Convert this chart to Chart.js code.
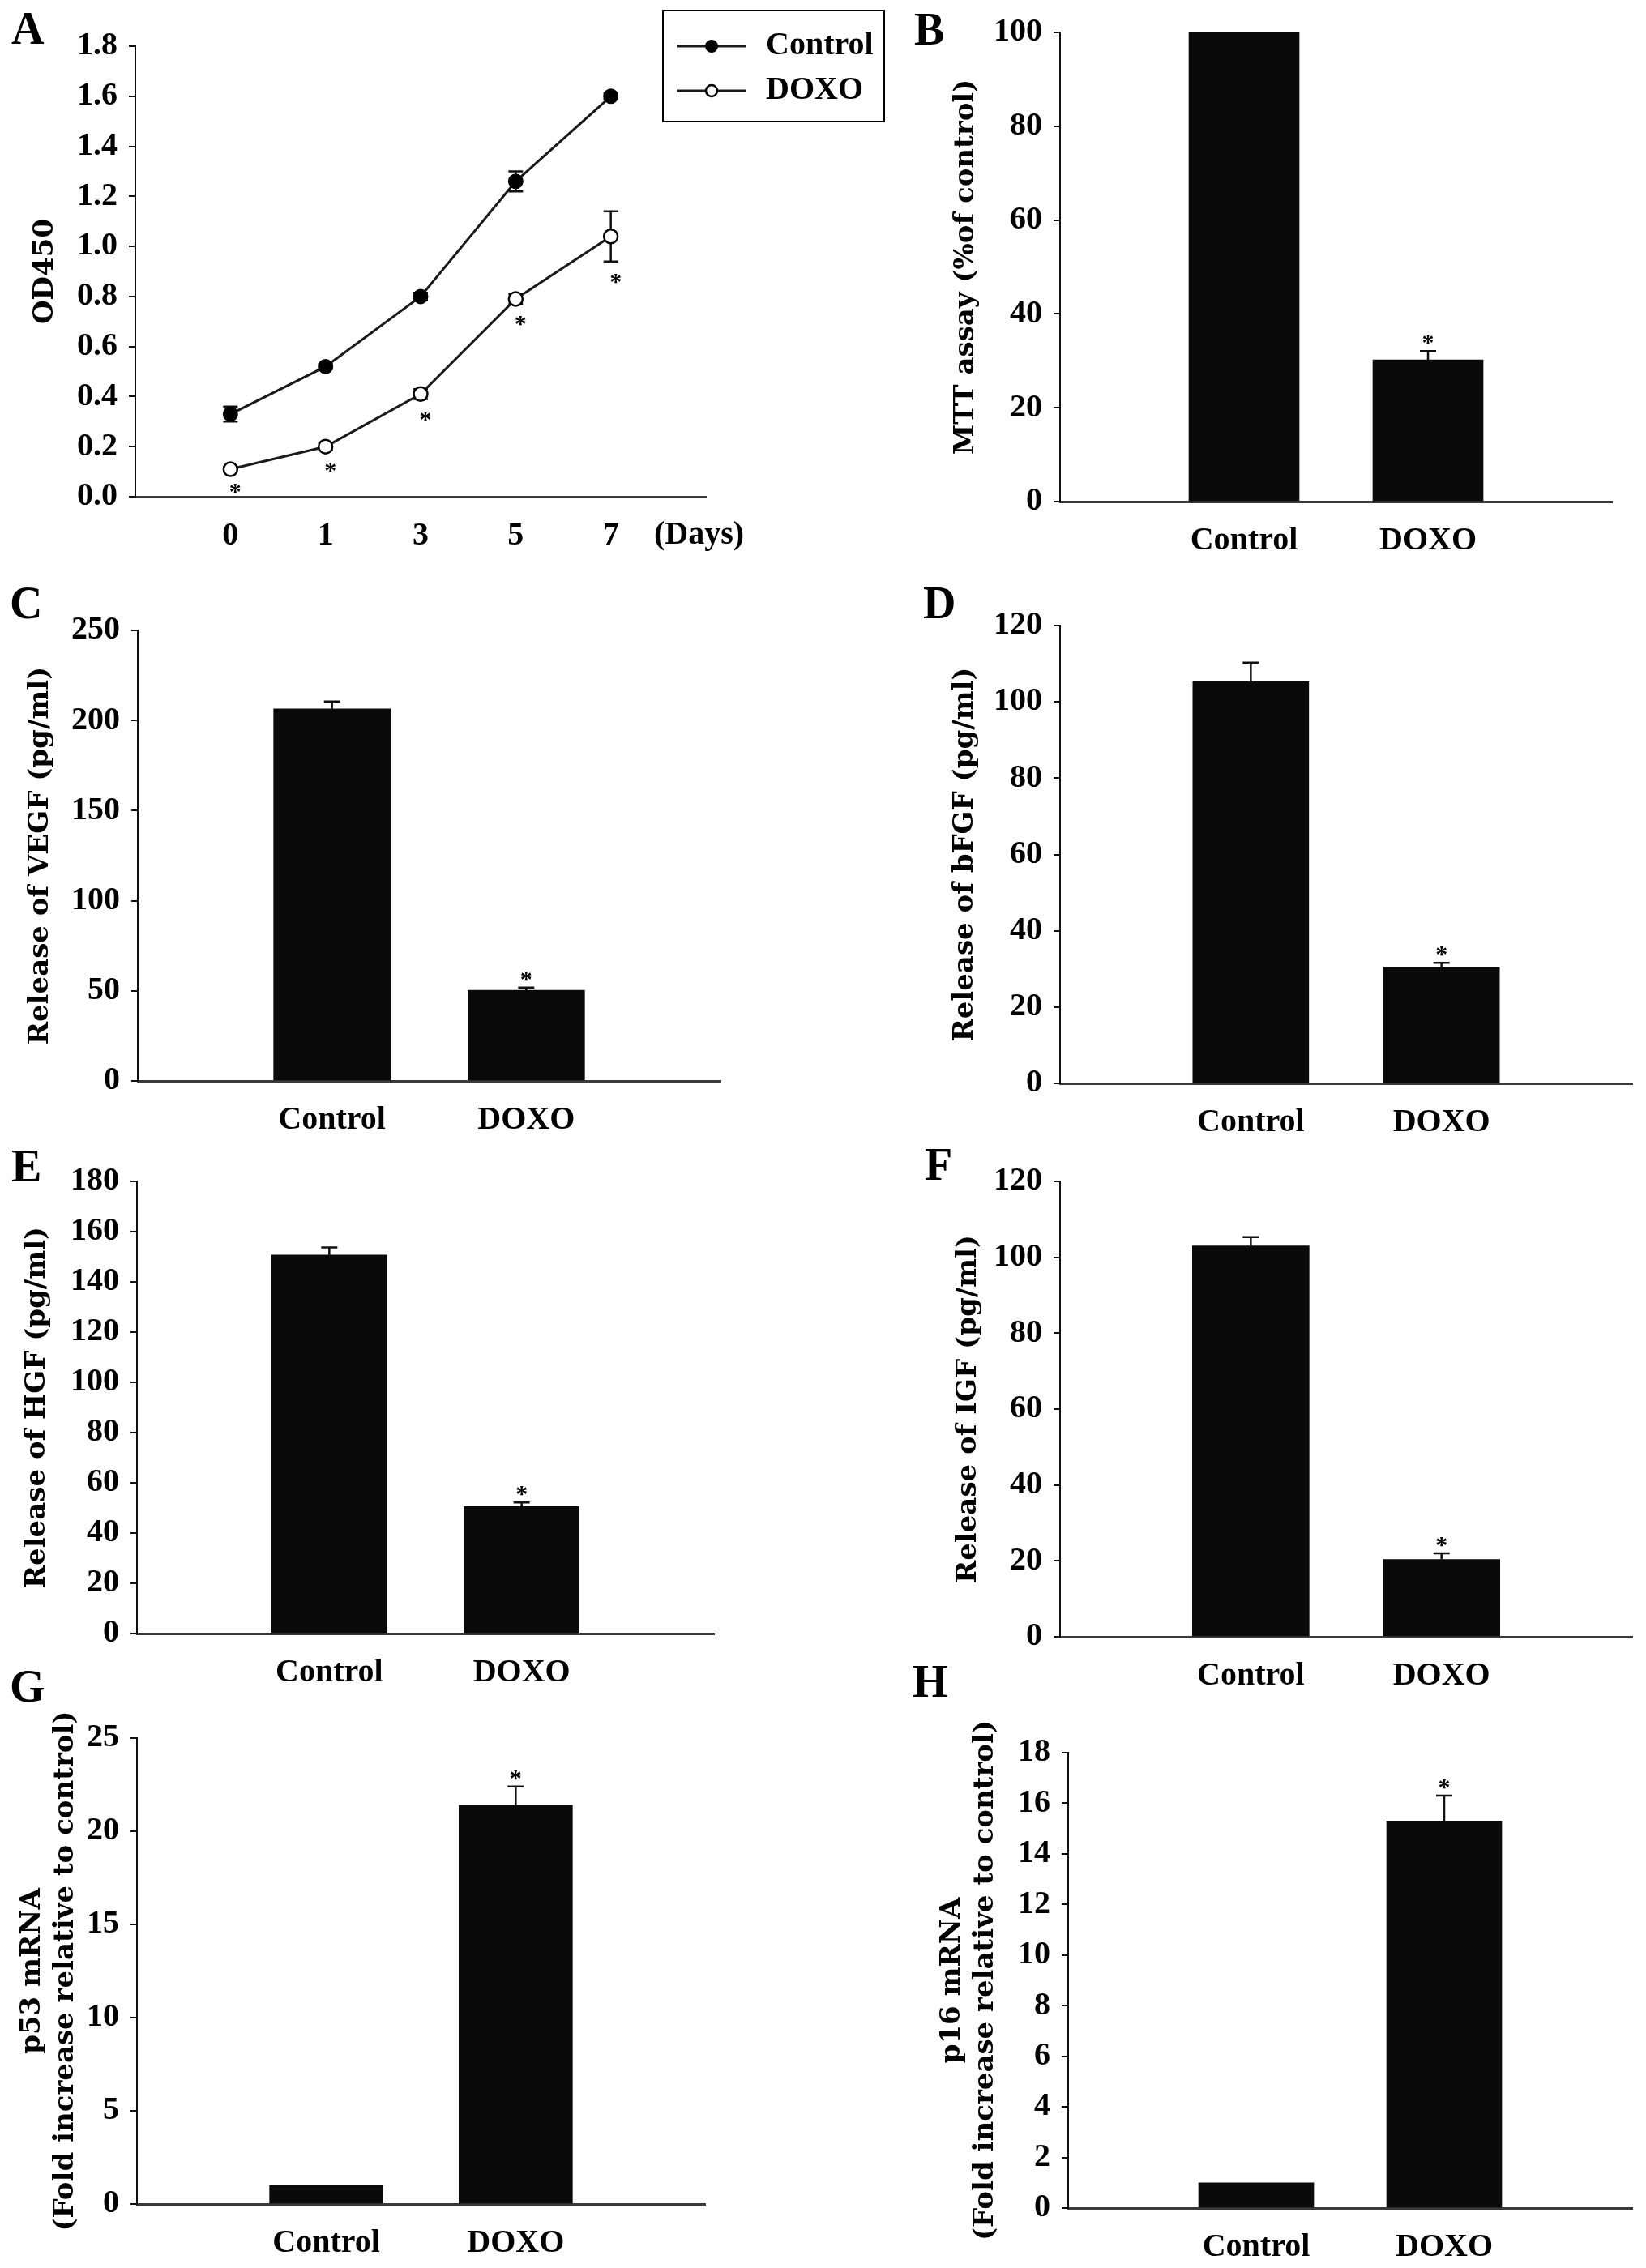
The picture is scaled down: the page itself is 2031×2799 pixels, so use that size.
<!DOCTYPE html>
<html>
<head>
<meta charset="utf-8">
<title>Doxorubicin panels</title>
<script src="https://cdn.jsdelivr.net/npm/chart.js@4.4.0/dist/chart.umd.min.js"></script>
<style>
  body { margin: 0; background: #fff; }
  #page { position: relative; width: 2031px; height: 2799px; background: #fff; overflow: hidden; }
  .panel { position: absolute; }
  .letter { position: absolute; z-index: 2; font: bold 56px 'Liberation Serif', 'Times New Roman', serif; line-height: 56px; color: #000; }
  .days { position: absolute; z-index: 2; font: bold 40px 'Liberation Serif', 'Times New Roman', serif; line-height: 40px; color: #000; }
</style>
</head>
<body>
<div id="page">
  <div class="letter" style="left:14px;top:7px">A</div>
  <div class="letter" style="left:1128px;top:8px">B</div>
  <div class="letter" style="left:12px;top:716px">C</div>
  <div class="letter" style="left:1139px;top:716px">D</div>
  <div class="letter" style="left:14px;top:1411px">E</div>
  <div class="letter" style="left:1141px;top:1409px">F</div>
  <div class="letter" style="left:12px;top:2053px">G</div>
  <div class="letter" style="left:1126px;top:2047px">H</div>
  <div class="days" style="left:807px;top:638px">(Days)</div>
</div>
<script>
// panel A: growth curve (OD450)
const dayLabels = ['0', '1', '3', '5', '7'];
const odControl = [0.33, 0.52, 0.80, 1.26, 1.60];
const odControlErr = [0.03, 0.01, 0.015, 0.04, 0.012];
const odDoxo = [0.11, 0.20, 0.41, 0.79, 1.04];
const odDoxoErr = [0.01, 0.015, 0.02, 0.02, 0.10];
const odDoxoStars = [true, true, true, true, true];

// panels B-H: two groups each
const groups = ['Control', 'DOXO'];
const groupStars = [false, true];
const mttValues = [100, 30.2];
const mttErr = [0, 1.9];
const vegfValues = [206.5, 50.3];
const vegfErr = [4, 1.5];
const bfgfValues = [105.3, 30.4];
const bfgfErr = [5, 1.2];
const hgfValues = [150.7, 50.6];
const hgfErr = [3, 1.6];
const igfValues = [103, 20.4];
const igfErr = [2.3, 1.6];
const p53Values = [1.0, 21.4];
const p53Err = [0, 1.0];
const p16Values = [1.0, 15.3];
const p16Err = [0, 1.0];

Chart.defaults.font.family = "'Liberation Serif', 'Times New Roman', serif";
Chart.defaults.font.weight = 'bold';
Chart.defaults.font.size = 40;
Chart.defaults.color = '#000';
Chart.defaults.animation = false;

const titleFont = {family: "'DejaVu Serif', serif", size: 34, weight: 'bold', lineHeight: 1.2};
const X_HEIGHT = 70;

// empty slot at both ends of the category axis, like the original plots
function pad(arr) { return [null].concat(arr, [null]); }
function padLabels(arr) { return [''].concat(arr, ['']); }

function addCanvas(box) {
  const div = document.createElement('div');
  div.className = 'panel';
  div.style.left = box.left + 'px';
  div.style.top = box.top + 'px';
  div.style.width = box.width + 'px';
  div.style.height = box.height + 'px';
  const canvas = document.createElement('canvas');
  div.appendChild(canvas);
  document.getElementById('page').appendChild(div);
  return canvas;
}

// chart area placement inside the panel box
function frame(p) {
  const b = p.box;
  const padLeft = p.titleX - titleFont.size * titleFont.lineHeight / 2 - b.left;
  return {
    padding: {
      left: padLeft,
      top: p.plotTop - b.top,
      right: b.left + b.width - p.plotRight,
      bottom: b.top + b.height - p.plotBottom - X_HEIGHT
    },
    yWidth: p.axisX - b.left - padLeft
  };
}

function xScale() {
  return {
    offset: false,
    grid: {display: false},
    border: {display: true, color: '#3a3a3a', width: 3},
    ticks: {autoSkip: false, maxRotation: 0, padding: 17, font: {size: 40}},
    afterFit: s => { s.height = X_HEIGHT; }
  };
}

function yScale(p, width) {
  return {
    min: p.min,
    max: p.max,
    ticks: {stepSize: p.step, padding: 14, font: {size: 40}, callback: p.fmt || (v => v)},
    grid: {drawOnChartArea: false, drawTicks: true, tickLength: 8, color: '#111', lineWidth: 2},
    border: {display: true, color: '#111', width: 2},
    title: {display: true, text: p.title, font: titleFont, padding: 0, color: '#000'},
    afterFit: s => { s.width = width; }
  };
}

function drawStar(ctx, x, cy) {
  ctx.save();
  ctx.fillStyle = '#000';
  ctx.font = "bold 30px 'Liberation Serif', serif";
  ctx.textAlign = 'center';
  ctx.textBaseline = 'alphabetic';
  ctx.fillText('*', x, cy + 14);
  ctx.restore();
}

const errorBars = {
  id: 'errorBars',
  beforeDatasetsDraw(chart, args, opts) {
    const ctx = chart.ctx;
    const y = chart.scales.y;
    ctx.save();
    ctx.strokeStyle = '#111';
    ctx.lineWidth = opts.lineWidth || 2.5;
    chart.data.datasets.forEach((ds, di) => {
      if (!ds.errors) return;
      chart.getDatasetMeta(di).data.forEach((el, i) => {
        const v = ds.data[i];
        const err = ds.errors[i];
        if (v == null || !err) return;
        const top = y.getPixelForValue(v + err);
        const bot = y.getPixelForValue(opts.twoSided ? v - err : v);
        const hw = opts.capWidth / 2;
        ctx.beginPath();
        ctx.moveTo(el.x, top); ctx.lineTo(el.x, bot);
        ctx.moveTo(el.x - hw, top); ctx.lineTo(el.x + hw, top);
        if (opts.twoSided) { ctx.moveTo(el.x - hw, bot); ctx.lineTo(el.x + hw, bot); }
        ctx.stroke();
      });
    });
    ctx.restore();
  },
  afterDatasetsDraw(chart, args, opts) {
    const y = chart.scales.y;
    chart.data.datasets.forEach((ds, di) => {
      if (!ds.stars) return;
      chart.getDatasetMeta(di).data.forEach((el, i) => {
        if (!ds.stars[i] || ds.data[i] == null) return;
        const err = ds.errors ? ds.errors[i] || 0 : 0;
        if (opts.starBelow) {
          drawStar(chart.ctx, el.x + 6, y.getPixelForValue(ds.data[i] - err) + 20);
        } else {
          drawStar(chart.ctx, el.x, y.getPixelForValue(ds.data[i] + err) - 15);
        }
      });
    });
  }
};

// boxed legend drawn from the datasets' own styles
const boxLegend = {
  id: 'boxLegend',
  afterDraw(chart, args, opts) {
    const ctx = chart.ctx;
    ctx.save();
    ctx.strokeStyle = '#000';
    ctx.lineWidth = 2;
    ctx.strokeRect(opts.x, opts.y, opts.w, opts.h);
    chart.data.datasets.forEach((ds, i) => {
      const cy = opts.y + 44 + i * 55;
      ctx.strokeStyle = ds.borderColor;
      ctx.lineWidth = ds.borderWidth;
      ctx.beginPath();
      ctx.moveTo(opts.x + 17, cy);
      ctx.lineTo(opts.x + 102, cy);
      ctx.stroke();
      ctx.beginPath();
      ctx.arc(opts.x + 60, cy, 7, 0, Math.PI * 2);
      ctx.fillStyle = ds.pointBackgroundColor;
      ctx.fill();
      ctx.lineWidth = ds.pointBorderWidth;
      ctx.strokeStyle = ds.pointBorderColor;
      ctx.stroke();
      ctx.fillStyle = '#000';
      ctx.font = "bold 40px 'Liberation Serif', serif";
      ctx.textAlign = 'left';
      ctx.textBaseline = 'middle';
      ctx.fillText(ds.label, opts.x + 127, cy);
    });
    ctx.restore();
  }
};

// ---- panel A
const panelA = {box: {left: 0, top: 0, width: 1100, height: 700}, axisX: 167, plotTop: 57, plotBottom: 613, plotRight: 871, titleX: 56,
  min: 0, max: 1.8, step: 0.2, fmt: v => v.toFixed(1), title: 'OD450'};
const frameA = frame(panelA);
new Chart(addCanvas(panelA.box), {
  type: 'line',
  data: {
    labels: padLabels(dayLabels),
    datasets: [
      {label: 'Control', data: pad(odControl), errors: pad(odControlErr),
        borderColor: '#1a1a1a', borderWidth: 3, tension: 0,
        pointRadius: 8.5, pointBackgroundColor: '#000', pointBorderColor: '#000', pointBorderWidth: 2},
      {label: 'DOXO', data: pad(odDoxo), errors: pad(odDoxoErr), stars: pad(odDoxoStars),
        borderColor: '#1a1a1a', borderWidth: 3, tension: 0,
        pointRadius: 8.5, pointBackgroundColor: '#fff', pointBorderColor: '#000', pointBorderWidth: 2.5}
    ]
  },
  options: {
    responsive: true,
    maintainAspectRatio: false,
    layout: {padding: frameA.padding},
    plugins: {
      legend: {display: false},
      tooltip: {enabled: false},
      errorBars: {twoSided: true, capWidth: 18, starBelow: true},
      boxLegend: {x: 818, y: 13, w: 273, h: 137}
    },
    scales: {x: xScale(), y: yScale(panelA, frameA.yWidth)}
  },
  plugins: [errorBars, boxLegend]
});

// ---- panels B-H
function barChart(p) {
  const f = frame(p);
  return new Chart(addCanvas(p.box), {
    type: 'bar',
    data: {
      labels: padLabels(groups),
      datasets: [{
        data: pad(p.values),
        errors: pad(p.errors),
        stars: pad(groupStars),
        backgroundColor: '#0a0a0a',
        borderWidth: 0,
        barThickness: Math.round(0.6 * (p.plotRight - p.axisX) / 3)
      }]
    },
    options: {
      responsive: true,
      maintainAspectRatio: false,
      layout: {padding: f.padding},
      plugins: {
        legend: {display: false},
        tooltip: {enabled: false},
        errorBars: {twoSided: false, capWidth: 20}
      },
      scales: {x: xScale(), y: yScale(p, f.yWidth)}
    },
    plugins: [errorBars]
  });
}

barChart({box: {left: 1100, top: 0, width: 931, height: 700}, axisX: 1308, plotTop: 40, plotBottom: 619, plotRight: 1989, titleX: 1192,
  min: 0, max: 100, step: 20, title: 'MTT assay (%of control)', values: mttValues, errors: mttErr});
barChart({box: {left: 0, top: 700, width: 1100, height: 720}, axisX: 170, plotTop: 778, plotBottom: 1334, plotRight: 889, titleX: 50,
  min: 0, max: 250, step: 50, title: 'Release of VEGF (pg/ml)', values: vegfValues, errors: vegfErr});
barChart({box: {left: 1100, top: 700, width: 931, height: 720}, axisX: 1308, plotTop: 772, plotBottom: 1337, plotRight: 2022, titleX: 1191,
  min: 0, max: 120, step: 20, title: 'Release of bFGF (pg/ml)', values: bfgfValues, errors: bfgfErr});
barChart({box: {left: 0, top: 1420, width: 1100, height: 680}, axisX: 169, plotTop: 1457, plotBottom: 2016, plotRight: 881, titleX: 46,
  min: 0, max: 180, step: 20, title: 'Release of HGF (pg/ml)', values: hgfValues, errors: hgfErr});
barChart({box: {left: 1100, top: 1420, width: 931, height: 680}, axisX: 1308, plotTop: 1454, plotBottom: 2020, plotRight: 2027, titleX: 1195,
  min: 0, max: 120, step: 20, title: 'Release of IGF (pg/ml)', values: igfValues, errors: igfErr});
barChart({box: {left: 0, top: 2100, width: 1100, height: 699}, axisX: 169, plotTop: 2145, plotBottom: 2720, plotRight: 870, titleX: 40,
  min: 0, max: 25, step: 5, title: ['p53 mRNA', '(Fold increase relative to control)'], values: p53Values, errors: p53Err});
barChart({box: {left: 1100, top: 2100, width: 931, height: 699}, axisX: 1318, plotTop: 2163, plotBottom: 2725, plotRight: 2027, titleX: 1175,
  min: 0, max: 18, step: 2, title: ['p16 mRNA', '(Fold increase relative to control)'], values: p16Values, errors: p16Err});
</script>
</body>
</html>
